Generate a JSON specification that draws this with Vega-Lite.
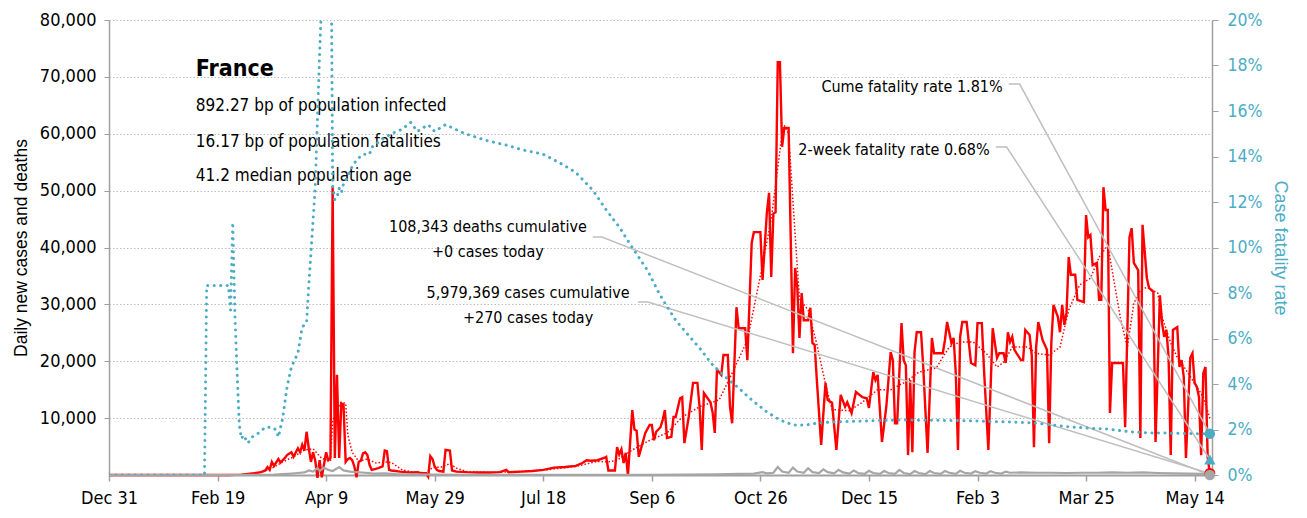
{
  "$schema": "https://vega.github.io/schema/vega-lite/v6.json",
  "width": 1103,
  "height": 455,
  "autosize": {"type": "none"},
  "padding": {"left": 109, "top": 20, "right": 95, "bottom": 43},
  "background": "white",
  "config": {
    "view": {"stroke": null},
    "font": "DejaVu Sans Condensed, sans-serif",
    "axis": {"labelFont": "DejaVu Sans Condensed, sans-serif", "titleFont": "Liberation Sans, Arial, sans-serif"}
  },
  "datasets": {
    "cases": [
      {"date":"2019-12-31","v":0},{"date":"2020-02-09","v":0},{"date":"2020-02-19","v":5},{"date":"2020-02-24","v":10},{"date":"2020-02-27","v":20},{"date":"2020-03-01","v":60},{"date":"2020-03-04","v":200},{"date":"2020-03-07","v":300},{"date":"2020-03-10","v":500},{"date":"2020-03-12","v":800},{"date":"2020-03-13","v":1400},{"date":"2020-03-14","v":900},{"date":"2020-03-15","v":2300},{"date":"2020-03-16","v":1600},{"date":"2020-03-18","v":2800},{"date":"2020-03-19","v":2200},{"date":"2020-03-21","v":3000},{"date":"2020-03-22","v":3500},{"date":"2020-03-24","v":4000},{"date":"2020-03-25","v":3200},{"date":"2020-03-27","v":4700},{"date":"2020-03-28","v":4000},{"date":"2020-03-29","v":5300},{"date":"2020-03-30","v":4300},{"date":"2020-03-31","v":7600},{"date":"2020-04-01","v":4700},{"date":"2020-04-02","v":2300},{"date":"2020-04-03","v":4000},{"date":"2020-04-04","v":2500},{"date":"2020-04-05","v":-500},{"date":"2020-04-06","v":2600},{"date":"2020-04-07","v":-400},{"date":"2020-04-08","v":1800},{"date":"2020-04-09","v":4000},{"date":"2020-04-10","v":2600},{"date":"2020-04-11","v":3000},{"date":"2020-04-12","v":50800},{"date":"2020-04-13","v":3000},{"date":"2020-04-14","v":17600},{"date":"2020-04-15","v":3000},{"date":"2020-04-16","v":12600},{"date":"2020-04-17","v":12400},{"date":"2020-04-18","v":2300},{"date":"2020-04-19","v":2800},{"date":"2020-04-20","v":3000},{"date":"2020-04-21","v":2600},{"date":"2020-04-22","v":1500},{"date":"2020-04-23","v":-400},{"date":"2020-04-24","v":2300},{"date":"2020-04-25","v":2500},{"date":"2020-04-26","v":3800},{"date":"2020-04-27","v":4000},{"date":"2020-04-28","v":3500},{"date":"2020-04-29","v":1800},{"date":"2020-04-30","v":900},{"date":"2020-05-01","v":1000},{"date":"2020-05-03","v":1200},{"date":"2020-05-05","v":1500},{"date":"2020-05-06","v":4300},{"date":"2020-05-07","v":4200},{"date":"2020-05-08","v":900},{"date":"2020-05-09","v":800},{"date":"2020-05-11","v":700},{"date":"2020-05-13","v":600},{"date":"2020-05-16","v":500},{"date":"2020-05-19","v":450},{"date":"2020-05-21","v":500},{"date":"2020-05-23","v":300},{"date":"2020-05-25","v":300},{"date":"2020-05-26","v":-300},{"date":"2020-05-27","v":3300},{"date":"2020-05-28","v":2800},{"date":"2020-05-29","v":1500},{"date":"2020-05-30","v":900},{"date":"2020-05-31","v":700},{"date":"2020-06-02","v":600},{"date":"2020-06-03","v":4400},{"date":"2020-06-05","v":4300},{"date":"2020-06-06","v":800},{"date":"2020-06-08","v":600},{"date":"2020-06-13","v":500},{"date":"2020-06-18","v":450},{"date":"2020-06-23","v":450},{"date":"2020-06-28","v":500},{"date":"2020-07-01","v":900},{"date":"2020-07-02","v":500},{"date":"2020-07-08","v":600},{"date":"2020-07-13","v":700},{"date":"2020-07-18","v":900},{"date":"2020-07-23","v":1300},{"date":"2020-07-28","v":1400},{"date":"2020-08-02","v":1600},{"date":"2020-08-05","v":2100},{"date":"2020-08-07","v":2600},{"date":"2020-08-09","v":2500},{"date":"2020-08-12","v":2600},{"date":"2020-08-15","v":3000},{"date":"2020-08-16","v":3200},{"date":"2020-08-17","v":800},{"date":"2020-08-20","v":800},{"date":"2020-08-21","v":4900},{"date":"2020-08-22","v":3600},{"date":"2020-08-23","v":4500},{"date":"2020-08-24","v":2100},{"date":"2020-08-25","v":3900},{"date":"2020-08-26","v":-100},{"date":"2020-08-28","v":11400},{"date":"2020-08-29","v":8000},{"date":"2020-08-30","v":7800},{"date":"2020-08-31","v":3200},{"date":"2020-09-03","v":7400},{"date":"2020-09-05","v":8800},{"date":"2020-09-06","v":8800},{"date":"2020-09-07","v":6100},{"date":"2020-09-08","v":7600},{"date":"2020-09-10","v":8400},{"date":"2020-09-11","v":9700},{"date":"2020-09-12","v":11400},{"date":"2020-09-13","v":6500},{"date":"2020-09-15","v":6700},{"date":"2020-09-16","v":10200},{"date":"2020-09-17","v":10200},{"date":"2020-09-19","v":13500},{"date":"2020-09-20","v":13700},{"date":"2020-09-21","v":5600},{"date":"2020-09-23","v":10200},{"date":"2020-09-25","v":16200},{"date":"2020-09-27","v":16200},{"date":"2020-09-28","v":12000},{"date":"2020-09-29","v":4400},{"date":"2020-09-30","v":14400},{"date":"2020-10-03","v":12800},{"date":"2020-10-04","v":11000},{"date":"2020-10-05","v":7400},{"date":"2020-10-06","v":18500},{"date":"2020-10-08","v":17600},{"date":"2020-10-09","v":21100},{"date":"2020-10-11","v":21100},{"date":"2020-10-12","v":12000},{"date":"2020-10-13","v":9100},{"date":"2020-10-15","v":29500},{"date":"2020-10-16","v":25800},{"date":"2020-10-19","v":25800},{"date":"2020-10-20","v":20200},{"date":"2020-10-22","v":40800},{"date":"2020-10-23","v":42700},{"date":"2020-10-26","v":42700},{"date":"2020-10-27","v":34300},{"date":"2020-10-29","v":46200},{"date":"2020-10-30","v":49600},{"date":"2020-10-31","v":34800},{"date":"2020-11-01","v":46000},{"date":"2020-11-02","v":46200},{"date":"2020-11-03","v":72600},{"date":"2020-11-04","v":72600},{"date":"2020-11-05","v":57700},{"date":"2020-11-06","v":61000},{"date":"2020-11-08","v":61000},{"date":"2020-11-10","v":21400},{"date":"2020-11-11","v":36400},{"date":"2020-11-12","v":33000},{"date":"2020-11-13","v":24100},{"date":"2020-11-14","v":32000},{"date":"2020-11-15","v":27200},{"date":"2020-11-17","v":27200},{"date":"2020-11-18","v":29400},{"date":"2020-11-19","v":23200},{"date":"2020-11-20","v":22900},{"date":"2020-11-21","v":16700},{"date":"2020-11-23","v":5300},{"date":"2020-11-25","v":16200},{"date":"2020-11-26","v":13200},{"date":"2020-11-28","v":12700},{"date":"2020-11-30","v":4400},{"date":"2020-12-02","v":14100},{"date":"2020-12-04","v":12000},{"date":"2020-12-05","v":12800},{"date":"2020-12-07","v":10900},{"date":"2020-12-09","v":14600},{"date":"2020-12-12","v":13700},{"date":"2020-12-14","v":13500},{"date":"2020-12-15","v":11800},{"date":"2020-12-17","v":18100},{"date":"2020-12-18","v":16700},{"date":"2020-12-19","v":17600},{"date":"2020-12-21","v":5800},{"date":"2020-12-23","v":12000},{"date":"2020-12-25","v":21600},{"date":"2020-12-26","v":20200},{"date":"2020-12-27","v":9100},{"date":"2020-12-28","v":9100},{"date":"2020-12-30","v":26700},{"date":"2020-12-31","v":20200},{"date":"2021-01-01","v":19300},{"date":"2021-01-02","v":3500},{"date":"2021-01-03","v":16700},{"date":"2021-01-04","v":4000},{"date":"2021-01-05","v":21600},{"date":"2021-01-06","v":25100},{"date":"2021-01-08","v":25100},{"date":"2021-01-09","v":19000},{"date":"2021-01-11","v":3900},{"date":"2021-01-13","v":24100},{"date":"2021-01-14","v":21400},{"date":"2021-01-18","v":21400},{"date":"2021-01-19","v":23700},{"date":"2021-01-20","v":26900},{"date":"2021-01-22","v":23200},{"date":"2021-01-23","v":24100},{"date":"2021-01-24","v":17900},{"date":"2021-01-25","v":4400},{"date":"2021-01-26","v":24300},{"date":"2021-01-27","v":26900},{"date":"2021-01-29","v":26900},{"date":"2021-01-31","v":19700},{"date":"2021-02-02","v":19300},{"date":"2021-02-03","v":26700},{"date":"2021-02-05","v":26700},{"date":"2021-02-06","v":18500},{"date":"2021-02-08","v":4400},{"date":"2021-02-10","v":25800},{"date":"2021-02-12","v":20600},{"date":"2021-02-13","v":21400},{"date":"2021-02-15","v":21400},{"date":"2021-02-16","v":19700},{"date":"2021-02-17","v":25100},{"date":"2021-02-18","v":23400},{"date":"2021-02-19","v":24300},{"date":"2021-02-20","v":22000},{"date":"2021-02-23","v":20200},{"date":"2021-02-24","v":20200},{"date":"2021-02-25","v":25500},{"date":"2021-02-27","v":24600},{"date":"2021-02-28","v":21000},{"date":"2021-03-01","v":4900},{"date":"2021-03-02","v":22500},{"date":"2021-03-03","v":26900},{"date":"2021-03-05","v":23700},{"date":"2021-03-07","v":22000},{"date":"2021-03-08","v":5600},{"date":"2021-03-09","v":23200},{"date":"2021-03-10","v":29900},{"date":"2021-03-12","v":27800},{"date":"2021-03-13","v":25100},{"date":"2021-03-14","v":29900},{"date":"2021-03-15","v":26400},{"date":"2021-03-16","v":28500},{"date":"2021-03-17","v":38300},{"date":"2021-03-18","v":35200},{"date":"2021-03-20","v":35200},{"date":"2021-03-21","v":30800},{"date":"2021-03-24","v":30400},{"date":"2021-03-25","v":45700},{"date":"2021-03-26","v":41800},{"date":"2021-03-27","v":42200},{"date":"2021-03-28","v":36900},{"date":"2021-03-30","v":37300},{"date":"2021-03-31","v":30800},{"date":"2021-04-01","v":30800},{"date":"2021-04-02","v":50600},{"date":"2021-04-03","v":46600},{"date":"2021-04-04","v":46600},{"date":"2021-04-05","v":10900},{"date":"2021-04-06","v":19700},{"date":"2021-04-11","v":19700},{"date":"2021-04-12","v":8400},{"date":"2021-04-14","v":41800},{"date":"2021-04-15","v":43400},{"date":"2021-04-16","v":37300},{"date":"2021-04-18","v":36000},{"date":"2021-04-19","v":6500},{"date":"2021-04-20","v":44000},{"date":"2021-04-22","v":34600},{"date":"2021-04-23","v":32900},{"date":"2021-04-25","v":32200},{"date":"2021-04-26","v":5800},{"date":"2021-04-28","v":31600},{"date":"2021-04-29","v":26700},{"date":"2021-04-30","v":24300},{"date":"2021-05-01","v":25500},{"date":"2021-05-02","v":20700},{"date":"2021-05-03","v":3500},{"date":"2021-05-04","v":25500},{"date":"2021-05-06","v":26000},{"date":"2021-05-07","v":19000},{"date":"2021-05-08","v":20200},{"date":"2021-05-09","v":17200},{"date":"2021-05-10","v":3000},{"date":"2021-05-12","v":20600},{"date":"2021-05-13","v":21400},{"date":"2021-05-14","v":16200},{"date":"2021-05-15","v":15500},{"date":"2021-05-16","v":13700},{"date":"2021-05-17","v":3500},{"date":"2021-05-18","v":17900},{"date":"2021-05-19","v":19000},{"date":"2021-05-20","v":3200},{"date":"2021-05-21","v":270}
    ],
    "avg": [
      {"date":"2019-12-31","v":0},{"date":"2020-02-24","v":10},{"date":"2020-03-01","v":50},{"date":"2020-03-05","v":200},{"date":"2020-03-10","v":500},{"date":"2020-03-15","v":1200},{"date":"2020-03-20","v":2300},{"date":"2020-03-25","v":3200},{"date":"2020-03-30","v":4400},{"date":"2020-04-03","v":4600},{"date":"2020-04-07","v":2900},{"date":"2020-04-11","v":2600},{"date":"2020-04-12","v":9600},{"date":"2020-04-14","v":11500},{"date":"2020-04-16","v":12800},{"date":"2020-04-18","v":12600},{"date":"2020-04-19","v":7000},{"date":"2020-04-21","v":4000},{"date":"2020-04-24","v":2400},{"date":"2020-04-28","v":2800},{"date":"2020-05-02","v":2100},{"date":"2020-05-06","v":2300},{"date":"2020-05-09","v":2200},{"date":"2020-05-14","v":900},{"date":"2020-05-19","v":500},{"date":"2020-05-25","v":400},{"date":"2020-05-28","v":1300},{"date":"2020-06-01","v":1400},{"date":"2020-06-05","v":2000},{"date":"2020-06-08","v":1200},{"date":"2020-06-13","v":550},{"date":"2020-06-23","v":450},{"date":"2020-07-03","v":550},{"date":"2020-07-18","v":850},{"date":"2020-08-02","v":1500},{"date":"2020-08-12","v":2400},{"date":"2020-08-17","v":2300},{"date":"2020-08-21","v":2600},{"date":"2020-08-28","v":4400},{"date":"2020-09-05","v":6100},{"date":"2020-09-13","v":7400},{"date":"2020-09-20","v":10200},{"date":"2020-09-28","v":12000},{"date":"2020-10-07","v":13200},{"date":"2020-10-13","v":17900},{"date":"2020-10-20","v":23700},{"date":"2020-10-26","v":35000},{"date":"2020-10-31","v":45000},{"date":"2020-11-05","v":60000},{"date":"2020-11-06","v":61500},{"date":"2020-11-08","v":60000},{"date":"2020-11-10","v":48000},{"date":"2020-11-13","v":31000},{"date":"2020-11-17","v":29000},{"date":"2020-11-21","v":23000},{"date":"2020-11-25","v":16000},{"date":"2020-11-28","v":11500},{"date":"2020-12-06","v":11300},{"date":"2020-12-12","v":12800},{"date":"2020-12-19","v":15000},{"date":"2020-12-25","v":15000},{"date":"2021-01-01","v":16400},{"date":"2021-01-07","v":18100},{"date":"2021-01-15","v":18800},{"date":"2021-01-18","v":20700},{"date":"2021-01-21","v":22500},{"date":"2021-01-26","v":23400},{"date":"2021-02-01","v":23400},{"date":"2021-02-07","v":21400},{"date":"2021-02-12","v":19000},{"date":"2021-02-15","v":19800},{"date":"2021-02-19","v":22500},{"date":"2021-02-26","v":22500},{"date":"2021-03-02","v":21400},{"date":"2021-03-08","v":21100},{"date":"2021-03-13","v":22500},{"date":"2021-03-17","v":29000},{"date":"2021-03-22","v":33400},{"date":"2021-03-27","v":34600},{"date":"2021-03-31","v":38300},{"date":"2021-04-04","v":40400},{"date":"2021-04-06","v":36000},{"date":"2021-04-10","v":27200},{"date":"2021-04-13","v":22500},{"date":"2021-04-16","v":30200},{"date":"2021-04-19","v":32500},{"date":"2021-04-22","v":33000},{"date":"2021-04-27","v":32000},{"date":"2021-04-29","v":27800},{"date":"2021-05-03","v":23200},{"date":"2021-05-06","v":20700},{"date":"2021-05-10","v":18500},{"date":"2021-05-15","v":15500},{"date":"2021-05-18","v":13700},{"date":"2021-05-21","v":10000}
    ],
    "deaths": [
      {"date":"2019-12-31","v":0},{"date":"2020-02-24","v":0},{"date":"2020-03-05","v":5},{"date":"2020-03-12","v":20},{"date":"2020-03-16","v":60},{"date":"2020-03-20","v":150},{"date":"2020-03-24","v":250},{"date":"2020-03-27","v":350},{"date":"2020-03-30","v":450},{"date":"2020-04-01","v":800},{"date":"2020-04-03","v":600},{"date":"2020-04-05","v":1200},{"date":"2020-04-06","v":700},{"date":"2020-04-08","v":1300},{"date":"2020-04-10","v":900},{"date":"2020-04-12","v":700},{"date":"2020-04-15","v":1400},{"date":"2020-04-17","v":800},{"date":"2020-04-20","v":600},{"date":"2020-04-23","v":500},{"date":"2020-04-27","v":400},{"date":"2020-05-01","v":250},{"date":"2020-05-06","v":300},{"date":"2020-05-11","v":150},{"date":"2020-05-19","v":100},{"date":"2020-05-29","v":60},{"date":"2020-06-13","v":30},{"date":"2020-07-03","v":20},{"date":"2020-07-28","v":15},{"date":"2020-08-22","v":20},{"date":"2020-09-06","v":40},{"date":"2020-09-21","v":70},{"date":"2020-10-06","v":120},{"date":"2020-10-16","v":200},{"date":"2020-10-23","v":250},{"date":"2020-10-27","v":500},{"date":"2020-10-29","v":300},{"date":"2020-11-01","v":400},{"date":"2020-11-03","v":1400},{"date":"2020-11-05","v":600},{"date":"2020-11-08","v":400},{"date":"2020-11-10","v":1300},{"date":"2020-11-12","v":600},{"date":"2020-11-15","v":400},{"date":"2020-11-17","v":1200},{"date":"2020-11-19","v":500},{"date":"2020-11-22","v":350},{"date":"2020-11-24","v":1000},{"date":"2020-11-26","v":500},{"date":"2020-11-29","v":300},{"date":"2020-12-01","v":900},{"date":"2020-12-03","v":450},{"date":"2020-12-06","v":250},{"date":"2020-12-08","v":800},{"date":"2020-12-10","v":350},{"date":"2020-12-13","v":200},{"date":"2020-12-15","v":750},{"date":"2020-12-17","v":350},{"date":"2020-12-20","v":200},{"date":"2020-12-22","v":700},{"date":"2020-12-24","v":350},{"date":"2020-12-27","v":200},{"date":"2020-12-29","v":900},{"date":"2020-12-31","v":350},{"date":"2021-01-03","v":150},{"date":"2021-01-05","v":700},{"date":"2021-01-07","v":350},{"date":"2021-01-10","v":150},{"date":"2021-01-12","v":700},{"date":"2021-01-14","v":350},{"date":"2021-01-17","v":200},{"date":"2021-01-19","v":700},{"date":"2021-01-21","v":400},{"date":"2021-01-24","v":200},{"date":"2021-01-26","v":750},{"date":"2021-01-28","v":400},{"date":"2021-01-31","v":250},{"date":"2021-02-02","v":650},{"date":"2021-02-04","v":400},{"date":"2021-02-07","v":250},{"date":"2021-02-09","v":650},{"date":"2021-02-11","v":400},{"date":"2021-02-14","v":250},{"date":"2021-02-16","v":600},{"date":"2021-02-18","v":400},{"date":"2021-02-23","v":450},{"date":"2021-03-02","v":400},{"date":"2021-03-09","v":400},{"date":"2021-03-16","v":350},{"date":"2021-03-23","v":400},{"date":"2021-03-30","v":400},{"date":"2021-04-06","v":450},{"date":"2021-04-13","v":400},{"date":"2021-04-20","v":450},{"date":"2021-04-27","v":350},{"date":"2021-05-04","v":300},{"date":"2021-05-11","v":250},{"date":"2021-05-18","v":200},{"date":"2021-05-20","v":150},{"date":"2021-05-21","v":0}
    ],
    "cfr": [
      {"date":"2019-12-31","p":0},{"date":"2020-02-13","p":0},{"date":"2020-02-14","p":8.33},{"date":"2020-02-24","p":8.33},{"date":"2020-02-25","p":7.25},{"date":"2020-02-26","p":11.1},{"date":"2020-02-27","p":7.0},{"date":"2020-02-28","p":4.5},{"date":"2020-02-29","p":2.2},{"date":"2020-03-01","p":1.6},{"date":"2020-03-02","p":1.75},{"date":"2020-03-04","p":1.4},{"date":"2020-03-06","p":1.67},{"date":"2020-03-09","p":1.85},{"date":"2020-03-12","p":2.1},{"date":"2020-03-15","p":2.1},{"date":"2020-03-17","p":1.98},{"date":"2020-03-18","p":1.67},{"date":"2020-03-20","p":2.5},{"date":"2020-03-22","p":3.87},{"date":"2020-03-24","p":4.75},{"date":"2020-03-27","p":5.36},{"date":"2020-03-29","p":6.5},{"date":"2020-03-31","p":6.7},{"date":"2020-04-01","p":8.3},{"date":"2020-04-02","p":9.75},{"date":"2020-04-03","p":11.2},{"date":"2020-04-04","p":12.7},{"date":"2020-04-05","p":15.6},{"date":"2020-04-06","p":18.5},{"date":"2020-04-07","p":21},{"date":"2020-04-08","p":24},{"date":"2020-04-09","p":26},{"date":"2020-04-10","p":27},{"date":"2020-04-11","p":28},{"date":"2020-04-12","p":12.7},{"date":"2020-04-13","p":12.1},{"date":"2020-04-14","p":12.2},{"date":"2020-04-15","p":12.6},{"date":"2020-04-16","p":12.4},{"date":"2020-04-17","p":12.8},{"date":"2020-04-19","p":13.1},{"date":"2020-04-20","p":13.4},{"date":"2020-04-23","p":13.85},{"date":"2020-04-26","p":14.1},{"date":"2020-04-29","p":14.1},{"date":"2020-04-30","p":14.4},{"date":"2020-05-04","p":14.7},{"date":"2020-05-09","p":15.0},{"date":"2020-05-14","p":15.2},{"date":"2020-05-18","p":15.5},{"date":"2020-05-21","p":15.1},{"date":"2020-05-26","p":15.4},{"date":"2020-05-29","p":15.1},{"date":"2020-06-03","p":15.4},{"date":"2020-06-12","p":15.0},{"date":"2020-06-22","p":14.7},{"date":"2020-07-01","p":14.5},{"date":"2020-07-08","p":14.3},{"date":"2020-07-18","p":14.1},{"date":"2020-07-26","p":13.7},{"date":"2020-08-02","p":13.3},{"date":"2020-08-10","p":12.5},{"date":"2020-08-16","p":11.65},{"date":"2020-08-22","p":10.9},{"date":"2020-08-28","p":10.0},{"date":"2020-09-04","p":9.0},{"date":"2020-09-09","p":8.05},{"date":"2020-09-12","p":7.56},{"date":"2020-09-17","p":6.8},{"date":"2020-09-22","p":6.24},{"date":"2020-09-28","p":5.58},{"date":"2020-10-04","p":4.84},{"date":"2020-10-10","p":4.3},{"date":"2020-10-16","p":3.82},{"date":"2020-10-22","p":3.3},{"date":"2020-10-29","p":2.77},{"date":"2020-11-04","p":2.42},{"date":"2020-11-10","p":2.2},{"date":"2020-11-16","p":2.2},{"date":"2020-11-22","p":2.29},{"date":"2020-11-28","p":2.33},{"date":"2020-12-29","p":2.42},{"date":"2021-01-27","p":2.39},{"date":"2021-02-27","p":2.3},{"date":"2021-03-08","p":2.22},{"date":"2021-03-17","p":2.12},{"date":"2021-03-26","p":2.06},{"date":"2021-04-04","p":2.02},{"date":"2021-04-14","p":1.9},{"date":"2021-04-23","p":1.85},{"date":"2021-05-02","p":1.84},{"date":"2021-05-11","p":1.82},{"date":"2021-05-21","p":1.81}
    ],
    "ends": [
      {"date":"2021-05-21","v":270,"s":"cases"},
      {"date":"2021-05-21","v":0,"s":"deaths"}
    ],
    "cfrEnds": [
      {"date":"2021-05-21","p":1.81,"s":"cume"},
      {"date":"2021-05-21","p":0.68,"s":"2wk"}
    ],
    "leaders": [
      {"g":"cume","o":1,"date":"2021-02-17T09:00:00Z","v":68740},
      {"g":"cume","o":2,"date":"2021-02-22T10:00:00Z","v":68740},
      {"g":"cume","o":3,"date":"2021-05-21","v":7240},
      {"g":"2wk","o":1,"date":"2021-02-11T10:00:00Z","v":57670},
      {"g":"2wk","o":2,"date":"2021-02-16T10:00:00Z","v":57670},
      {"g":"2wk","o":3,"date":"2021-05-21","v":2720},
      {"g":"deaths","o":1,"date":"2020-08-09T19:00:00Z","v":41845},
      {"g":"deaths","o":2,"date":"2020-08-14","v":41845},
      {"g":"deaths","o":3,"date":"2021-05-21","v":0},
      {"g":"cases","o":1,"date":"2020-08-30T14:00:00Z","v":30417},
      {"g":"cases","o":2,"date":"2020-09-04T05:00:00Z","v":30417},
      {"g":"cases","o":3,"date":"2021-05-21","v":270}
    ],
    "info": [
      {"date":"2020-02-09","v":64000,"t":"892.27 bp of population infected"},
      {"date":"2020-02-09","v":57670,"t":"16.17 bp of population fatalities"},
      {"date":"2020-02-09","v":51690,"t":"41.2 median population age"}
    ],
    "heading": [
      {"date":"2020-02-09","v":70150,"t":"France"}
    ],
    "centerNotes": [
      {"date":"2020-06-22T12:00:00Z","v":42720,"t":"108,343 deaths cumulative"},
      {"date":"2020-06-22T12:00:00Z","v":38330,"t":"+0 cases today"},
      {"date":"2020-07-11","v":31120,"t":"5,979,369 cases cumulative"},
      {"date":"2020-07-11","v":26720,"t":"+270 cases today"}
    ],
    "rightNotes": [
      {"date":"2021-02-14T14:00:00Z","v":67340,"t":"Cume fatality rate 1.81%"},
      {"date":"2021-02-08T14:00:00Z","v":56260,"t":"2-week fatality rate 0.68%"}
    ]
  },
  "layer": [
    {
      "layer": [
        {
          "data": {"name": "cases"},
          "mark": {"type": "line", "color": "#ff0000", "strokeWidth": 2.4, "strokeJoin": "miter"},
          "encoding": {
            "x": {"field": "date", "type": "temporal", "title": null,
              "scale": {"type": "utc", "domain": [{"year": 2019, "month": 12, "date": 31, "utc": true}, {"year": 2021, "month": 5, "date": 22, "utc": true}]},
              "axis": {
                "values": [
                  {"year": 2019, "month": 12, "date": 31, "utc": true},
                  {"year": 2020, "month": 2, "date": 19, "utc": true},
                  {"year": 2020, "month": 4, "date": 9, "utc": true},
                  {"year": 2020, "month": 5, "date": 29, "utc": true},
                  {"year": 2020, "month": 7, "date": 18, "utc": true},
                  {"year": 2020, "month": 9, "date": 6, "utc": true},
                  {"year": 2020, "month": 10, "date": 26, "utc": true},
                  {"year": 2020, "month": 12, "date": 15, "utc": true},
                  {"year": 2021, "month": 2, "date": 3, "utc": true},
                  {"year": 2021, "month": 3, "date": 25, "utc": true},
                  {"year": 2021, "month": 5, "date": 14, "utc": true}
                ],
                "format": "%b %-d", "grid": false, "labelFlush": false, "labelOverlap": false, "labelBound": false,
                "labelFontSize": 18, "labelColor": "#000000", "labelPadding": 8,
                "domainColor": "#a0a0a0", "domainWidth": 2, "tickColor": "#a0a0a0", "tickSize": 6, "tickWidth": 1.5
              }
            },
            "y": {"field": "v", "type": "quantitative", "title": "Daily new cases and deaths",
              "scale": {"domain": [0, 80000], "nice": false, "zero": false},
              "axis": {
                "values": [10000, 20000, 30000, 40000, 50000, 60000, 70000, 80000],
                "format": ",d", "grid": true, "gridDash": [1.5, 2], "gridColor": "#bdbdbd", "gridWidth": 1,
                "labelFontSize": 18, "labelColor": "#000000", "labelPadding": 8,
                "domainColor": "#a0a0a0", "domainWidth": 1.5, "tickColor": "#a0a0a0", "tickSize": 5,
                "titleFontSize": 17.5, "titleFontWeight": "normal", "titleColor": "#000000", "titlePadding": 9
              }
            }
          }
        },
        {
          "data": {"name": "avg"},
          "mark": {"type": "line", "color": "#ff0000", "strokeWidth": 1.5, "strokeDash": [1.5, 2]},
          "encoding": {
            "x": {"field": "date", "type": "temporal", "title": null},
            "y": {"field": "v", "type": "quantitative", "title": "Daily new cases and deaths"}
          }
        },
        {
          "data": {"name": "deaths"},
          "mark": {"type": "line", "color": "#a6a6a6", "strokeWidth": 2.2},
          "encoding": {
            "x": {"field": "date", "type": "temporal", "title": null},
            "y": {"field": "v", "type": "quantitative", "title": "Daily new cases and deaths"}
          }
        },
        {
          "data": {"name": "leaders"},
          "mark": {"type": "line", "color": "#bfbfbf", "strokeWidth": 1.5},
          "encoding": {
            "x": {"field": "date", "type": "temporal", "title": null},
            "y": {"field": "v", "type": "quantitative", "title": "Daily new cases and deaths"},
            "detail": {"field": "g"},
            "order": {"field": "o", "type": "quantitative"}
          }
        },
        {
          "data": {"name": "ends"},
          "transform": [{"filter": "datum.s == 'cases'"}],
          "mark": {"type": "point", "filled": true, "opacity": 1, "color": "#ff0000", "size": 120},
          "encoding": {
            "x": {"field": "date", "type": "temporal", "title": null},
            "y": {"field": "v", "type": "quantitative", "title": "Daily new cases and deaths"}
          }
        },
        {
          "data": {"name": "ends"},
          "transform": [{"filter": "datum.s == 'deaths'"}],
          "mark": {"type": "point", "filled": true, "opacity": 1, "color": "#a6a6a6", "size": 110},
          "encoding": {
            "x": {"field": "date", "type": "temporal", "title": null},
            "y": {"field": "v", "type": "quantitative", "title": "Daily new cases and deaths"}
          }
        },
        {
          "data": {"name": "heading"},
          "mark": {"type": "text", "align": "left", "baseline": "alphabetic", "fontSize": 23, "fontWeight": "bold", "color": "#000000", "font": "DejaVu Sans Condensed, sans-serif"},
          "encoding": {
            "x": {"field": "date", "type": "temporal", "title": null},
            "y": {"field": "v", "type": "quantitative", "title": "Daily new cases and deaths"},
            "text": {"field": "t"}
          }
        },
        {
          "data": {"name": "info"},
          "mark": {"type": "text", "align": "left", "baseline": "alphabetic", "fontSize": 17, "color": "#000000", "font": "DejaVu Sans Condensed, sans-serif"},
          "encoding": {
            "x": {"field": "date", "type": "temporal", "title": null},
            "y": {"field": "v", "type": "quantitative", "title": "Daily new cases and deaths"},
            "text": {"field": "t"}
          }
        },
        {
          "data": {"name": "centerNotes"},
          "mark": {"type": "text", "align": "center", "baseline": "alphabetic", "fontSize": 16, "color": "#000000", "font": "DejaVu Sans Condensed, sans-serif"},
          "encoding": {
            "x": {"field": "date", "type": "temporal", "title": null},
            "y": {"field": "v", "type": "quantitative", "title": "Daily new cases and deaths"},
            "text": {"field": "t"}
          }
        },
        {
          "data": {"name": "rightNotes"},
          "mark": {"type": "text", "align": "right", "baseline": "alphabetic", "fontSize": 16, "color": "#000000", "font": "DejaVu Sans Condensed, sans-serif"},
          "encoding": {
            "x": {"field": "date", "type": "temporal", "title": null},
            "y": {"field": "v", "type": "quantitative", "title": "Daily new cases and deaths"},
            "text": {"field": "t"}
          }
        }
      ]
    },
    {
      "layer": [
        {
          "data": {"name": "cfr"},
          "mark": {"type": "line", "color": "#4bacc6", "strokeWidth": 3, "strokeDash": [0.1, 6.4], "strokeCap": "round", "clip": true},
          "encoding": {
            "x": {"field": "date", "type": "temporal", "title": null},
            "y": {"field": "p", "type": "quantitative", "title": "Case fatality rate",
              "scale": {"domain": [0, 20], "nice": false, "zero": false},
              "axis": {
                "orient": "right",
                "values": [0, 2, 4, 6, 8, 10, 12, 14, 16, 18, 20],
                "labelExpr": "datum.value + '%'", "grid": false,
                "labelFontSize": 17.5, "labelColor": "#4bacc6", "labelPadding": 9,
                "domainColor": "#a0a0a0", "domainWidth": 1.5, "tickColor": "#a0a0a0", "tickSize": 6,
                "titleFontSize": 18, "titleFontWeight": "normal", "titleColor": "#4bacc6", "titlePadding": 9
              }
            }
          }
        },
        {
          "data": {"name": "cfrEnds"},
          "transform": [{"filter": "datum.s == 'cume'"}],
          "mark": {"type": "point", "filled": true, "opacity": 1, "color": "#4bacc6", "size": 110, "shape": "circle"},
          "encoding": {
            "x": {"field": "date", "type": "temporal", "title": null},
            "y": {"field": "p", "type": "quantitative", "title": "Case fatality rate"}
          }
        },
        {
          "data": {"name": "cfrEnds"},
          "transform": [{"filter": "datum.s == '2wk'"}],
          "mark": {"type": "point", "filled": true, "opacity": 1, "color": "#4bacc6", "size": 130, "shape": "triangle-up"},
          "encoding": {
            "x": {"field": "date", "type": "temporal", "title": null},
            "y": {"field": "p", "type": "quantitative", "title": "Case fatality rate"}
          }
        }
      ]
    }
  ],
  "resolve": {"scale": {"y": "independent"}}
}
